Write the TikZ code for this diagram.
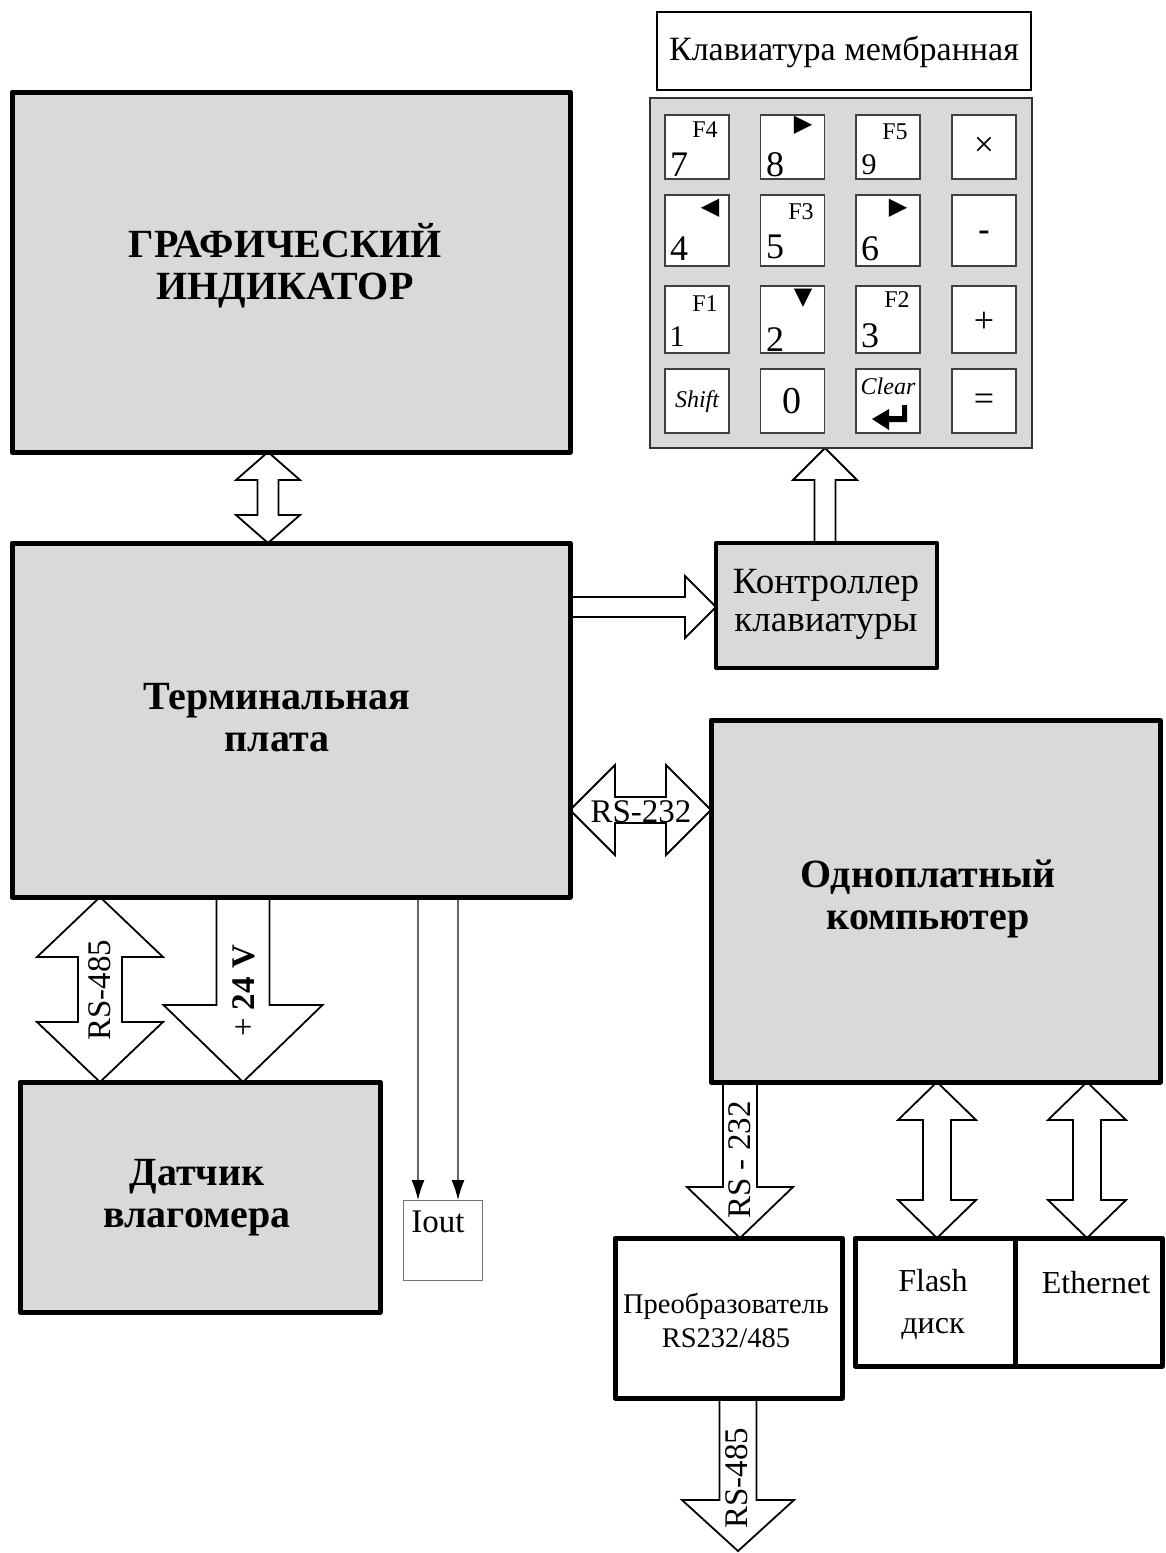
\documentclass[tikz,border=0pt]{standalone}
\usepackage{fontspec}
\setmainfont{Liberation Serif}
\newfontfamily\symfont{DejaVu Sans}
\usetikzlibrary{calc,arrows.meta}
\definecolor{boxgray}{RGB}{217,217,217}
\pgfdeclarelayer{bg}
\pgfsetlayers{bg,main}
\newcommand\fsz[2]{\fontsize{#1}{#2}\selectfont}
% vertical double block arrow: top tip, bottom tip, head half width, shaft half width, head length
\newcommand\blkVdbl[5]{%
  \draw[blockarrow] let \p1=(#1),\p2=(#2) in
   (\x1,\y1) -- (\x1+#3pt,\y1-#5pt) -- (\x1+#4pt,\y1-#5pt) -- (\x1+#4pt,\y2+#5pt)
   -- (\x1+#3pt,\y2+#5pt) -- (\x1,\y2) -- (\x1-#3pt,\y2+#5pt) -- (\x1-#4pt,\y2+#5pt)
   -- (\x1-#4pt,\y1-#5pt) -- (\x1-#3pt,\y1-#5pt) -- cycle;}
% vertical single arrow pointing down: start (top), tip (bottom)
\newcommand\blkVdown[5]{%
  \draw[blockarrow] let \p1=(#1),\p2=(#2) in
   (\x2,\y2) -- (\x2+#3pt,\y2+#5pt) -- (\x2+#4pt,\y2+#5pt) -- (\x2+#4pt,\y1)
   -- (\x2-#4pt,\y1) -- (\x2-#4pt,\y2+#5pt) -- (\x2-#3pt,\y2+#5pt) -- cycle;}
% vertical single arrow pointing up: start (bottom), tip (top)
\newcommand\blkVup[5]{%
  \draw[blockarrow] let \p1=(#1),\p2=(#2) in
   (\x2,\y2) -- (\x2+#3pt,\y2-#5pt) -- (\x2+#4pt,\y2-#5pt) -- (\x2+#4pt,\y1)
   -- (\x2-#4pt,\y1) -- (\x2-#4pt,\y2-#5pt) -- (\x2-#3pt,\y2-#5pt) -- cycle;}
% horizontal single arrow pointing right: start (left), tip (right)
\newcommand\blkHright[5]{%
  \draw[blockarrow] let \p1=(#1),\p2=(#2) in
   (\x2,\y2) -- (\x2-#5pt,\y2+#3pt) -- (\x2-#5pt,\y2+#4pt) -- (\x1,\y2+#4pt)
   -- (\x1,\y2-#4pt) -- (\x2-#5pt,\y2-#4pt) -- (\x2-#5pt,\y2-#3pt) -- cycle;}
% horizontal double arrow: left tip, right tip
\newcommand\blkHdbl[5]{%
  \draw[blockarrow] let \p1=(#1),\p2=(#2) in
   (\x1,\y1) -- (\x1+#5pt,\y1+#3pt) -- (\x1+#5pt,\y1+#4pt) -- (\x2-#5pt,\y1+#4pt)
   -- (\x2-#5pt,\y1+#3pt) -- (\x2,\y1) -- (\x2-#5pt,\y1-#3pt) -- (\x2-#5pt,\y1-#4pt)
   -- (\x1+#5pt,\y1-#4pt) -- (\x1+#5pt,\y1-#3pt) -- cycle;}
\tikzset{
  bigbox/.style={draw, line width=5pt, fill=boxgray, line join=round, outer sep=0pt, inner sep=0pt},
  whitebox/.style={bigbox, fill=white},
  thinbox/.style={draw, line width=2pt, fill=white, outer sep=0pt, inner sep=0pt},
  panelbox/.style={draw=black!80, line width=1.5pt, fill=boxgray, outer sep=0pt, inner sep=0pt},
  keybox/.style={draw=black!75, line width=1.3pt, fill=white, outer sep=0pt, inner sep=0pt, minimum width=64pt},
  ioutbox/.style={draw=black!55, line width=1pt, fill=white, outer sep=0pt, inner sep=0pt},
  blockarrow/.style={draw, line width=1.8pt, fill=white, line join=miter},
  ioutline/.style={draw=black!60, line width=1.2pt, -{Latex[length=20pt,width=13pt,color=black]}},
  titletext/.style={font=\fsz{40}{42}\bfseries, align=center, inner sep=0pt},
  plaintext/.style={font=\fsz{37}{38}, align=center, inner sep=0pt},
  arrowlabel/.style={font=\fsz{33}{36}, inner sep=0pt},
  fkey/.style={font=\fsz{24}{26}, inner sep=0pt},
  digit/.style={font=\fsz{36}{38}, inner sep=0pt},
  smalldigit/.style={font=\fsz{30}{32}, inner sep=0pt},
  tri/.style={font=\symfont\fsz{24}{26}, inner sep=0pt},
  opkey/.style={font=\fsz{36}{38}, inner sep=0pt},
  italkey/.style={font=\fsz{24}{26}\itshape, inner sep=0pt}
}
\begin{document}
\begin{tikzpicture}[x=1pt,y=-1pt]
\useasboundingbox (0,0) rectangle (1166,1553);
% ---------- main blocks ----------
\node[bigbox, minimum width=558pt, minimum height=360pt] (ind) at (291,272) {};
\node[titletext] (indlbl) at (285,266) {ГРАФИЧЕСКИЙ\\ИНДИКАТОР};
\node[bigbox, minimum width=558pt, minimum height=354pt] (term) at (291,720) {};
\node[titletext] (termlbl) at (277,718) {Терминальная\\плата};
\node[bigbox, line width=4pt, minimum width=221pt, minimum height=125pt] (ctrl) at (826.5,605.5) {};
\node[plaintext] (ctrllbl) at (826,604) {Контроллер\\клавиатуры};
\node[bigbox, minimum width=449pt, minimum height=362pt] (comp) at (935.5,901) {};
\node[titletext] (complbl) at (928,899) {Одноплатный\\компьютер};
\node[bigbox, minimum width=360pt, minimum height=230pt] (dat) at (200,1197) {};
\node[titletext] (datlbl) at (197,1198) {Датчик\\влагомера};
\node[ioutbox, minimum width=79pt, minimum height=80pt] (iout) at (442.5,1240) {};
\node[font=\fsz{33}{35}, inner sep=0pt] (ioutlbl) at (438,1222) {Iout};
\node[whitebox, minimum width=227pt, minimum height=160pt] (conv) at (728.5,1318) {};
\node[font=\fsz{28.5}{34}, align=center, inner sep=0pt] (convlbl) at (726,1320) {Преобразователь\\RS232/485};
\node[whitebox, minimum width=160pt, minimum height=128pt] (flash) at (935,1302) {};
\node[font=\fsz{32}{42}, align=center, inner sep=0pt] (flashlbl) at (933,1304) {Flash\\диск};
\node[whitebox, minimum width=147pt, minimum height=128pt] (eth) at (1088.5,1302) {};
\node[font=\fsz{32}{34}, inner sep=0pt] (ethlbl) at (1096,1283) {Ethernet};
% ---------- keyboard ----------
\node[thinbox, minimum width=374pt, minimum height=78pt] (kbtitle) at (844,51) {};
\node[font=\fsz{34}{36}, inner sep=0pt] (kbtitlelbl) at (844,52) {Клавиатура мембранная};
\node[panelbox, minimum width=382pt, minimum height=350pt] (panel) at (841,273) {};
% row 1
\node[keybox, minimum height=64pt] (k7) at (697,147) {};
\node[keybox, minimum height=64pt] (k8) at (792.5,147) {};
\node[keybox, minimum height=64pt] (k9) at (888,147) {};
\node[keybox, minimum height=64pt] (kx) at (984,147) {};
% row 2
\node[keybox, minimum height=71pt] (k4) at (697,230.5) {};
\node[keybox, minimum height=71pt] (k5) at (792.5,230.5) {};
\node[keybox, minimum height=71pt] (k6) at (888,230.5) {};
\node[keybox, minimum height=71pt] (kminus) at (984,230.5) {};
% row 3
\node[keybox, minimum height=67pt] (k1) at (697,319.5) {};
\node[keybox, minimum height=67pt] (k2) at (792.5,319.5) {};
\node[keybox, minimum height=67pt] (k3) at (888,319.5) {};
\node[keybox, minimum height=67pt] (kplus) at (984,319.5) {};
% row 4
\node[keybox, minimum height=64pt] (kshift) at (697,401) {};
\node[keybox, minimum height=64pt] (k0) at (792.5,401) {};
\node[keybox, minimum height=64pt] (kclear) at (888,401) {};
\node[keybox, minimum height=64pt] (keq) at (984,401) {};
% key labels
\node[fkey] (l7a) at (705,130) {F4};
\node[digit] (l7b) at (679,165) {7};
\node[tri] (l8a) at (803,125) {▶};
\node[digit] (l8b) at (775,165) {8};
\node[fkey] (l9a) at (895,132) {F5};
\node[smalldigit] (l9b) at (869,165) {9};
\node[opkey] (lx) at (984,147) {×};
\node[tri] (l4a) at (710,208) {◀};
\node[digit] (l4b) at (679,249) {4};
\node[fkey] (l5a) at (801,212) {F3};
\node[digit] (l5b) at (775,247) {5};
\node[tri] (l6a) at (898,208) {▶};
\node[digit] (l6b) at (870,249) {6};
\node[font=\fsz{34}{36}\bfseries, inner sep=0pt] (lminus) at (984,236) {-};
\node[fkey] (l1a) at (705,304) {F1};
\node[smalldigit] (l1b) at (677,337) {1};
\node[tri] (l2a) at (803,298) {▼};
\node[digit] (l2b) at (775,340) {2};
\node[fkey] (l3a) at (897,300) {F2};
\node[digit] (l3b) at (870,336) {3};
\node[opkey] (lplus) at (984,322) {+};
\node[italkey] (lshift) at (697,402) {Shift};
\node[font=\fsz{38}{40}, inner sep=0pt] (l0) at (792,401) {0};
\node[italkey] (lclear) at (888,386) {Clear};
\node[opkey] (leq) at (984,402) {=};
\fill (872,419) -- (889,409) -- (889,416) -- (902,416) -- (902,405) -- (907,405)
      -- (907,422) -- (889,422) -- (889,430) -- cycle;
% ---------- reference coordinates for connectors ----------
\coordinate (xA) at (268,0);
\coordinate (xB) at (825,0);
\coordinate (yC) at (0,607);
\coordinate (yD) at (0,810);
\coordinate (xE) at (100,0);
\coordinate (xF) at (243,0);
\coordinate (xG) at (740,0);
\coordinate (xH) at (738,0);
\coordinate (xI) at (937,0);
\coordinate (xJ) at (1087,0);
\coordinate (xK1) at (418,0);
\coordinate (xK2) at (458,0);
\coordinate (busend) at (738,1551);
% ---------- connectors ----------
\begin{pgfonlayer}{bg}
\blkVdbl{xA |- ind.south}{xA |- term.north}{32}{10.5}{28}
\blkVup{xB |- ctrl.north}{xB |- panel.south}{32}{10.5}{32}
\blkHright{term.east |- yC}{ctrl.west |- yC}{31}{10}{31}
\blkHdbl{term.east |- yD}{comp.west |- yD}{45}{13}{45}
\blkVdbl{xE |- term.south}{xE |- dat.north}{63}{22}{60}
\blkVdown{xF |- term.south}{xF |- dat.north}{79.5}{26.5}{77}
\blkVdown{xG |- comp.south}{xG |- conv.north}{53}{17}{51}
\blkVdown{xH |- conv.south}{busend}{56}{18.5}{51}
\blkVdbl{xI |- comp.south}{xI |- flash.north}{39}{14}{38}
\blkVdbl{xJ |- comp.south}{xJ |- eth.north}{39}{14}{38}
\draw[ioutline] (xK1 |- term.south) -- (xK1 |- iout.north);
\draw[ioutline] (xK2 |- term.south) -- (xK2 |- iout.north);
\end{pgfonlayer}
% ---------- connector labels ----------
\node[arrowlabel] (lrs232a) at (641,812) {RS-232};
\node[arrowlabel, rotate=90] (lrs485a) at (100,990) {RS-485};
\node[arrowlabel, rotate=90] (l24v) at (244,991) {+ \textbf{24 V}};
\node[arrowlabel, rotate=90] (lrs232b) at (740,1160) {RS - 232};
\node[arrowlabel, rotate=90] (lrs485b) at (737,1478) {RS-485};
\end{tikzpicture}
\end{document}
